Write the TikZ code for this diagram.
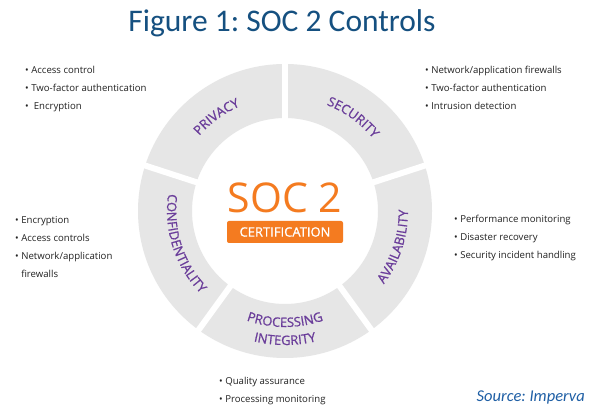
\documentclass[tikz,border=0pt]{standalone}
\usepackage{fontspec}
\usetikzlibrary{positioning,decorations.text}
\setmainfont{Open Sans}
\newfontfamily\titlefont{Carlito}
\newfontfamily\semisans[FakeBold=0.9]{Open Sans}
\definecolor{titleblue}{RGB}{21,80,128}
\definecolor{srcblue}{RGB}{31,95,165}
\definecolor{socorange}{RGB}{244,123,32}
\definecolor{segpurple}{RGB}{106,61,154}
\definecolor{ringgray}{RGB}{230,230,230}
\definecolor{listgray}{RGB}{34,34,34}
\newcommand\segfont{\semisans\fontsize{13}{15}\selectfont}
\frenchspacing
\tikzset{
  item/.style={font=\fontsize{9.6}{11}\selectfont, text=listgray, inner sep=0pt, text height=7pt, text depth=2.5pt},
  seglabel/.style={decorate, decoration={text along path, text align=center, text color=segpurple}},
}

\begin{document}
\begin{tikzpicture}[x=1pt, y=1pt]
    \fill[white] (0,0) rectangle (596,414);
    \useasboundingbox (0,0) rectangle (596,414);
    \coordinate (c) at (285,203);

    % ring and gaps
    \fill[ringgray, even odd rule] (c) circle[radius=147pt] (c) circle[radius=93pt];
    \foreach \a in {90,18,-54,-126,162}
        \draw[white, line width=6pt] ([shift={(\a:88pt)}]c) -- ([shift={(\a:152pt)}]c);

    % segment labels
    \path[seglabel, decoration={text={|\segfont|PRIVACY}}] ([shift={(160:114pt)}]c) arc[start angle=160, end angle=92, radius=114pt];
    \path[seglabel, decoration={text={|\segfont|SECURITY}}] ([shift={(88:114pt)}]c) arc[start angle=88, end angle=20, radius=114pt];
    \path[seglabel, decoration={text={|\segfont|AVAILABILITY}}] ([shift={(-54:123pt)}]c) arc[start angle=-54, end angle=18, radius=123pt];
    \path[seglabel, decoration={text={|\segfont|PROCESSING}}] ([shift={(-126:116pt)}]c) arc[start angle=-126, end angle=-54, radius=116pt];
    \path[seglabel, decoration={text={|\segfont|INTEGRITY}}] ([shift={(-126:134pt)}]c) arc[start angle=-126, end angle=-54, radius=134pt];
    \path[seglabel, decoration={text={|\segfont|CONFIDENTIALITY}}] ([shift={(158:118pt)}]c) arc[start angle=158, end angle=238, radius=118pt];

    % centre
    \node[font=\fontsize{41}{41}\selectfont, text=socorange, anchor=base, inner sep=0pt] (soc) at (285,201) {SOC 2};
    \node[fill=socorange, rounded corners=2pt, minimum width=116pt, minimum height=22pt, inner sep=0pt,
          text=white, font=\semisans\fontsize{13}{15}\selectfont] (cert) at (285,182) {CERTIFICATION};

    % title and source
    \node[font=\titlefont\fontsize{31.5}{34}\selectfont, text=titleblue, anchor=base, inner sep=0pt] (title) at (282,382) {Figure 1: SOC 2 Controls};
    \node[font=\titlefont\itshape\fontsize{16.5}{18}\selectfont, text=srcblue, anchor=base east, inner sep=0pt] (src) at (585,12) {Source: Imperva};

    % privacy
    \node[item, anchor=base west] (pr1) at (25,340) {\textbullet\ Access control};
    \node[item, below right=8pt and 0pt of pr1.south west] (pr2) {\textbullet\ Two-factor authentication};
    \node[item, below right=8pt and 0pt of pr2.south west] (pr3) {\textbullet\ \ Encryption};

    % security
    \node[item, anchor=base west] (se1) at (425,340) {\textbullet\ Network/application firewalls};
    \node[item, below right=8pt and 0pt of se1.south west] (se2) {\textbullet\ Two-factor authentication};
    \node[item, below right=8pt and 0pt of se2.south west] (se3) {\textbullet\ Intrusion detection};

    % confidentiality
    \node[item, anchor=base west] (co1) at (15,190) {\textbullet\ Encryption};
    \node[item, below right=8pt and 0pt of co1.south west] (co2) {\textbullet\ Access controls};
    \node[item, below right=8pt and 0pt of co2.south west] (co3) {\textbullet\ Network/application};
    \node[item, below right=8pt and 0pt of co3.south west] (co4) {\phantom{\textbullet\ }firewalls};

    % availability
    \node[item, anchor=base west] (av1) at (454,191) {\textbullet\ Performance monitoring};
    \node[item, below right=8pt and 0pt of av1.south west] (av2) {\textbullet\ Disaster recovery};
    \node[item, below right=8pt and 0pt of av2.south west] (av3) {\textbullet\ Security incident handling};

    % processing integrity
    \node[item, anchor=base west] (pi1) at (219,29) {\textbullet\ Quality assurance};
    \node[item, below right=8pt and 0pt of pi1.south west] (pi2) {\textbullet\ Processing monitoring};
\end{tikzpicture}
\end{document}
